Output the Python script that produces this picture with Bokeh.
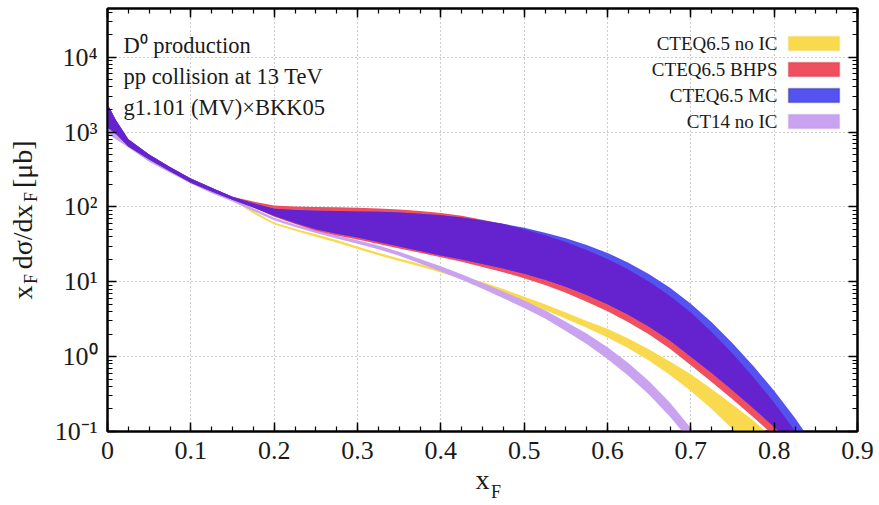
import numpy as np
from bokeh.plotting import figure
from bokeh.models import (Range1d, LinearAxis, LogAxis, FixedTicker,
                          CustomJSTickFormatter, Label, BoxAnnotation)
from bokeh.embed import file_html
from bokeh.resources import INLINE

# ---------------- data ----------------
x_ticks = [0.0, 0.1, 0.2, 0.3, 0.4, 0.5, 0.6, 0.7, 0.8, 0.9]
y_ticks = [0.1, 1.0, 10.0, 100.0, 1000.0, 10000.0]

# CTEQ6.5 family grid
xf = [0, 0.01, 0.025, 0.05, 0.075, 0.1, 0.125, 0.15, 0.175, 0.2, 0.225, 0.25,
      0.275, 0.3, 0.325, 0.35, 0.375, 0.4, 0.425, 0.45, 0.475, 0.5, 0.525,
      0.55, 0.575, 0.6, 0.625, 0.65, 0.675, 0.7, 0.725, 0.75, 0.775, 0.8,
      0.825, 0.85]

noic_lo = [1150, 950, 640, 430, 300, 210, 160, 122,
           82, 58, 48, 40, 33.5, 27.3, 22.6, 19, 16, 13.3, 10.9, 8.8, 7.0, 5.4,
           4.2, 3.2, 2.43, 1.8, 1.29, 0.88, 0.569, 0.347, 0.2, 0.108, 0.056,
           0.027, 0.0126, 0.0056]
noic_hi = [2350, 1450, 800, 500, 340, 240, 180, 130,
           88, 62, 51, 43, 36.2, 29.6, 24.4, 20.5, 17.3, 14.5, 12, 9.9, 8.0,
           6.3, 5.0, 3.9, 3.0, 2.35, 1.75, 1.25, 0.86, 0.58, 0.37, 0.23, 0.14,
           0.08, 0.04, 0.018]

bhps_lo = [1150, 950, 640, 430, 300, 210, 160, 125,
           98, 74.1, 58.9, 47.9, 41.4, 36.7, 32, 27.9, 24.4, 21.2, 18.5, 15.8,
           13.4, 11.1, 9.06, 7.11, 5.42, 4.03, 2.88, 1.97, 1.27, 0.767, 0.457,
           0.269, 0.155, 0.087, 0.048, 0.026]
bhps_hi = [2350, 1450, 800, 500, 340, 240, 180, 137,
           118, 104, 101, 100, 99, 97.7, 95.5, 92.3, 88.1, 82.8, 75.9, 67.6,
           58.9, 50.1, 41.7, 33.9, 26.6, 20.2, 14.6, 10, 6.43, 3.89, 2.14,
           1.1, 0.53, 0.243, 0.102, 0.04]

mc_lo = [1150, 950, 640, 430, 300, 210, 160, 125,
         98, 75.9, 61, 50.1, 43.9, 38.9, 33.9, 29.5, 25.8, 22.5, 19.8, 17.3,
         15.0, 12.8, 10.6, 8.55, 6.67, 5.01, 3.63, 2.51, 1.64, 1.0, 0.603,
         0.355, 0.204, 0.115, 0.063, 0.034]
mc_hi = [2350, 1450, 800, 500, 340, 240, 180, 137,
         112, 94.4, 91.2, 88.7, 87.9, 87.1, 85.9, 84.1, 81.3, 77.3, 72.1, 66,
         59.6, 52.5, 45.2, 38, 30.9, 24.3, 18, 12.6, 8.3, 5.1, 2.88, 1.51,
         0.75, 0.35, 0.151, 0.06]

# CT14 grid
xc = [0, 0.01, 0.025, 0.05, 0.075, 0.1, 0.125, 0.15, 0.175, 0.2, 0.225, 0.25,
      0.275, 0.3, 0.325, 0.35, 0.375, 0.4, 0.425, 0.45, 0.475, 0.5, 0.525,
      0.55, 0.575, 0.6, 0.625, 0.65, 0.675, 0.7, 0.725]
ct14_lo = [950, 800, 620, 400, 285, 205, 152, 118,
           88, 66.1, 53.7, 44.7, 37.8, 32.3, 27.2, 22.2, 17.6, 13.7, 10.6,
           8.04, 6.03, 4.46, 3.24, 2.2, 1.48, 0.93, 0.555, 0.31, 0.158, 0.073,
           0.03]
ct14_hi = [1550, 1100, 800, 470, 320, 230, 170, 130,
           96, 71.6, 58.2, 48.6, 41.4, 35.8, 30.5, 25.2, 20.2, 16.1, 12.6,
           9.66, 7.41, 5.61, 4.18, 2.93, 2.04, 1.33, 0.82, 0.469, 0.243, 0.111,
           0.047]

labels = ["CTEQ6.5 no IC", "CTEQ6.5 BHPS", "CTEQ6.5 MC", "CT14 no IC"]

# ---------------- styles ----------------
C_YEL, C_RED, C_BLU, C_LAV, C_OVL = "#f9da4f", "#ef4f5e", "#5452f0", "#c9a3f0", "#6423cf"
E_YEL, E_RED, E_BLU, E_LAV = "#efcf3a", "#b8202e", "#1c1c80", "#b592e4"
FONT = "Liberation Serif"
TXT = "#1a1a1a"

FL, FR, FT, FB = 107, 857, 8, 431
W, H = 879, 505

p = figure(width=W, height=H, output_backend="svg", toolbar_location=None,
           x_range=Range1d(0, 0.9), y_range=Range1d(0.1, 10 ** 4.65),
           y_axis_type="log",
           min_border_left=FL, min_border_right=W - FR,
           min_border_top=FT, min_border_bottom=H - FB)
p.background_fill_color = "white"
p.border_fill_color = "white"
p.outline_line_color = "black"
p.outline_line_width = 2

x_minor = [round(0.025 * i, 4) for i in range(37)]
xt = FixedTicker(ticks=x_ticks, minor_ticks=x_minor)
y_minor = [m * t for t in y_ticks for m in range(2, 10)]
yt = FixedTicker(ticks=y_ticks, minor_ticks=y_minor)
no_ticks = FixedTicker(ticks=[], minor_ticks=[])

xfmt = CustomJSTickFormatter(code="return tick == 0 ? '0' : tick.toFixed(1);")
yfmt = CustomJSTickFormatter(code="""
const sup = {"0":"\u2070","1":"\u00b9","2":"\u00b2","3":"\u00b3","4":"\u2074",
"5":"\u2075","6":"\u2076","7":"\u2077","8":"\u2078","9":"\u2079","-":"\u207b"};
const e = Math.round(Math.log10(tick));
return "10" + String(e).split("").map(c => sup[c]).join("");
""")
empty = CustomJSTickFormatter(code="return '';")


def style(ax, show):
    ax.axis_line_color = "black"
    ax.axis_line_width = 2
    ax.major_tick_in = 9
    ax.major_tick_out = 0
    ax.minor_tick_in = 5
    ax.minor_tick_out = 0
    ax.major_tick_line_width = 1.5
    ax.minor_tick_line_width = 1.2
    ax.major_tick_line_color = "black"
    ax.minor_tick_line_color = "black"
    if show:
        ax.major_label_text_font = FONT
        ax.major_label_text_font_size = "26px"
        ax.major_label_text_color = TXT
    else:
        ax.major_label_text_font_size = "0px"
        ax.major_label_standoff = 0


def label_only(ax, text, size, standoff):
    ax.ticker = no_ticks
    ax.formatter = empty
    ax.axis_line_color = None
    ax.major_tick_line_color = None
    ax.minor_tick_line_color = None
    ax.major_tick_in = 0
    ax.major_tick_out = 0
    ax.minor_tick_in = 0
    ax.minor_tick_out = 0
    ax.major_label_text_font_size = "0px"
    ax.major_label_standoff = 0
    ax.axis_label = text
    ax.axis_label_text_font = FONT
    ax.axis_label_text_font_size = size
    ax.axis_label_text_font_style = "normal"
    ax.axis_label_text_color = TXT
    ax.axis_label_standoff = standoff


# bottom axis with the main "x" of x_F
xa = p.xaxis[0]
xa.ticker = xt
xa.formatter = xfmt
style(xa, True)
xa.major_label_standoff = 10
xa.axis_label = "x"
xa.axis_label_text_font = FONT
xa.axis_label_text_font_size = "28px"
xa.axis_label_text_font_style = "normal"
xa.axis_label_text_color = TXT
xa.axis_label_standoff = 2

# subscript F of the x label (further below, pulled up)
xsub = LinearAxis()
label_only(xsub, "\u2003\u2002F", "18px", -16)
p.add_layout(xsub, "below")

# left axis carries the subscripts of the y label
ya = p.yaxis[0]
ya.ticker = yt
ya.formatter = yfmt
style(ya, True)
ya.major_label_standoff = 10
ya.axis_label = "F\u2003\u2003\u2003\u2002\u2002F\u2003\u2003"
ya.axis_label_text_font = FONT
ya.axis_label_text_font_size = "18px"
ya.axis_label_text_font_style = "normal"
ya.axis_label_text_color = TXT
ya.axis_label_standoff = 11

# outer left axis carries the main y label text
ymain = LogAxis()
label_only(ymain, "x\u2002\u200ad\u03c3/dx\u2002\u200a[\u03bcb]", "28px", -20)
p.add_layout(ymain, "left")

top = LinearAxis(ticker=xt, formatter=empty)
style(top, False)
p.add_layout(top, "above")
right = LogAxis(ticker=yt, formatter=empty)
style(right, False)
p.add_layout(right, "right")

for g in (p.xgrid, p.ygrid):
    g.grid_line_color = "#9a9a9a"
    g.grid_line_dash = "1 3"
    g.grid_line_width = 1

# ---------------- bands ----------------
ov_lo = np.maximum(np.array(bhps_lo), np.array(mc_lo))
ov_hi = np.minimum(np.array(bhps_hi), np.array(mc_hi))
ov_hi = np.maximum(ov_hi, ov_lo)

p.varea(x=xf, y1=noic_lo, y2=noic_hi, fill_color=C_YEL)
p.varea(x=xc, y1=ct14_lo, y2=ct14_hi, fill_color=C_LAV)
p.varea(x=xf, y1=bhps_lo, y2=bhps_hi, fill_color=C_RED)
p.varea(x=xf, y1=mc_lo, y2=mc_hi, fill_color=C_BLU)
p.varea(x=xf, y1=ov_lo, y2=ov_hi, fill_color=C_OVL)


# ---------------- screen-positioned texts inside the frame ----------------
def sx(X):
    return X - FL


def sy(Y):
    return FB - Y


def lab(text, X, Y, size, align="left", baseline="alphabetic"):
    p.add_layout(Label(x=sx(X), y=sy(Y), x_units="screen", y_units="screen",
                       text=text, text_font=FONT, text_font_size=size,
                       text_color=TXT, text_align=align,
                       text_baseline=baseline))


lab("D\u2070 production", 123, 45, "22.5px")
lab("pp collision at 13 TeV", 123, 76, "22.5px")
lab("g1.101 (MV)\u00d7BKK05", 123, 107, "22.5px")

fills = [C_YEL, C_RED, C_BLU, C_LAV]
edges = [E_YEL, E_RED, E_BLU, E_LAV]
rows = [43, 69, 95, 121]
for t, f, e, r in zip(labels, fills, edges, rows):
    lab(t, 777, r, "19px", align="right", baseline="middle")
    p.add_layout(BoxAnnotation(left=sx(788), right=sx(839), top=sy(r - 7),
                               bottom=sy(r + 7), left_units="screen",
                               right_units="screen", top_units="screen",
                               bottom_units="screen", fill_color=f,
                               fill_alpha=1.0, line_color=e, line_width=1.5))

open("out.html", "w", encoding="utf-8").write(file_html(p, INLINE))
